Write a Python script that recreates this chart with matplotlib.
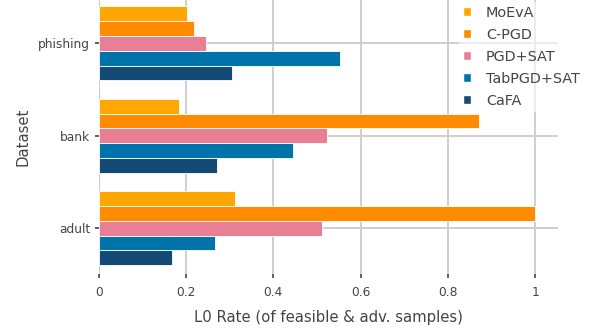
import numpy as np
import matplotlib
matplotlib.use("Agg")
import matplotlib.pyplot as plt
from matplotlib.patches import Patch

datasets = ['adult', 'bank', 'phishing']
methods = ['MoEvA', 'C-PGD', 'PGD+SAT', 'TabPGD+SAT', 'CaFA']
colors = ['#ffa600', '#ff8c00', '#e97f94', '#0073ab', '#134b76']

# L0 rate per method, order: adult, bank, phishing
moeva = [0.313, 0.185, 0.203]
cpgd = [1.0, 0.871, 0.219]
pgdsat = [0.511, 0.522, 0.246]
tabpgdsat = [0.267, 0.444, 0.553]
cafa = [0.169, 0.271, 0.306]
values = [moeva, cpgd, pgdsat, tabpgdsat, cafa]

plt.rcParams['font.family'] = 'DejaVu Sans'
txt = '#444444'
grid = '#cccccc'

fig = plt.figure(figsize=(5.97, 3.30), dpi=100)
ax = fig.add_axes([0.1653, 0.171, 0.7694, 0.829])

y = np.arange(len(datasets))
h = 0.8 / len(methods)
for i, (m, v) in enumerate(zip(methods, values)):
    off = 0.4 - h * (i + 0.5)
    ax.barh(y + off, v, height=h, color=colors[i], edgecolor='white',
            linewidth=0.6, label=m, zorder=3)

ax.set_xlim(0, 1.052)
ax.set_ylim(-0.49, 2.47)
ax.set_xticks([0, 0.2, 0.4, 0.6, 0.8, 1.0])
ax.set_xticklabels(['0', '0.2', '0.4', '0.6', '0.8', '1'])
ax.set_yticks(y)
ax.set_yticklabels(datasets)

ax.grid(True, color=grid, linewidth=1.3, zorder=0)
ax.axvline(0, color=grid, linewidth=1.5, zorder=1)
for s in ax.spines.values():
    s.set_visible(False)
ax.tick_params(axis='both', colors=txt, labelsize=8.8, length=3, width=1.2, pad=3)
ax.tick_params(axis='x', pad=6)

ax.set_xlabel('L0 Rate (of feasible & adv. samples)', color=txt, fontsize=10.7, labelpad=8)
ax.set_ylabel('Dataset', color=txt, fontsize=10.7, labelpad=6)

handles = [Patch(facecolor=c, edgecolor='white', label=m) for m, c in zip(methods, colors)]
leg = fig.legend(handles=handles, loc='upper left', bbox_to_anchor=(0.757, 1.017),
                 frameon=True, fontsize=10.4, handlelength=0.55, handleheight=0.55,
                 handletextpad=1.0, labelspacing=0.55, borderpad=0.3)
leg.get_frame().set_facecolor('white')
leg.get_frame().set_alpha(0.6)
leg.get_frame().set_linewidth(0)
for t in leg.get_texts():
    t.set_color(txt)

fig.savefig('out.png', dpi=100)
